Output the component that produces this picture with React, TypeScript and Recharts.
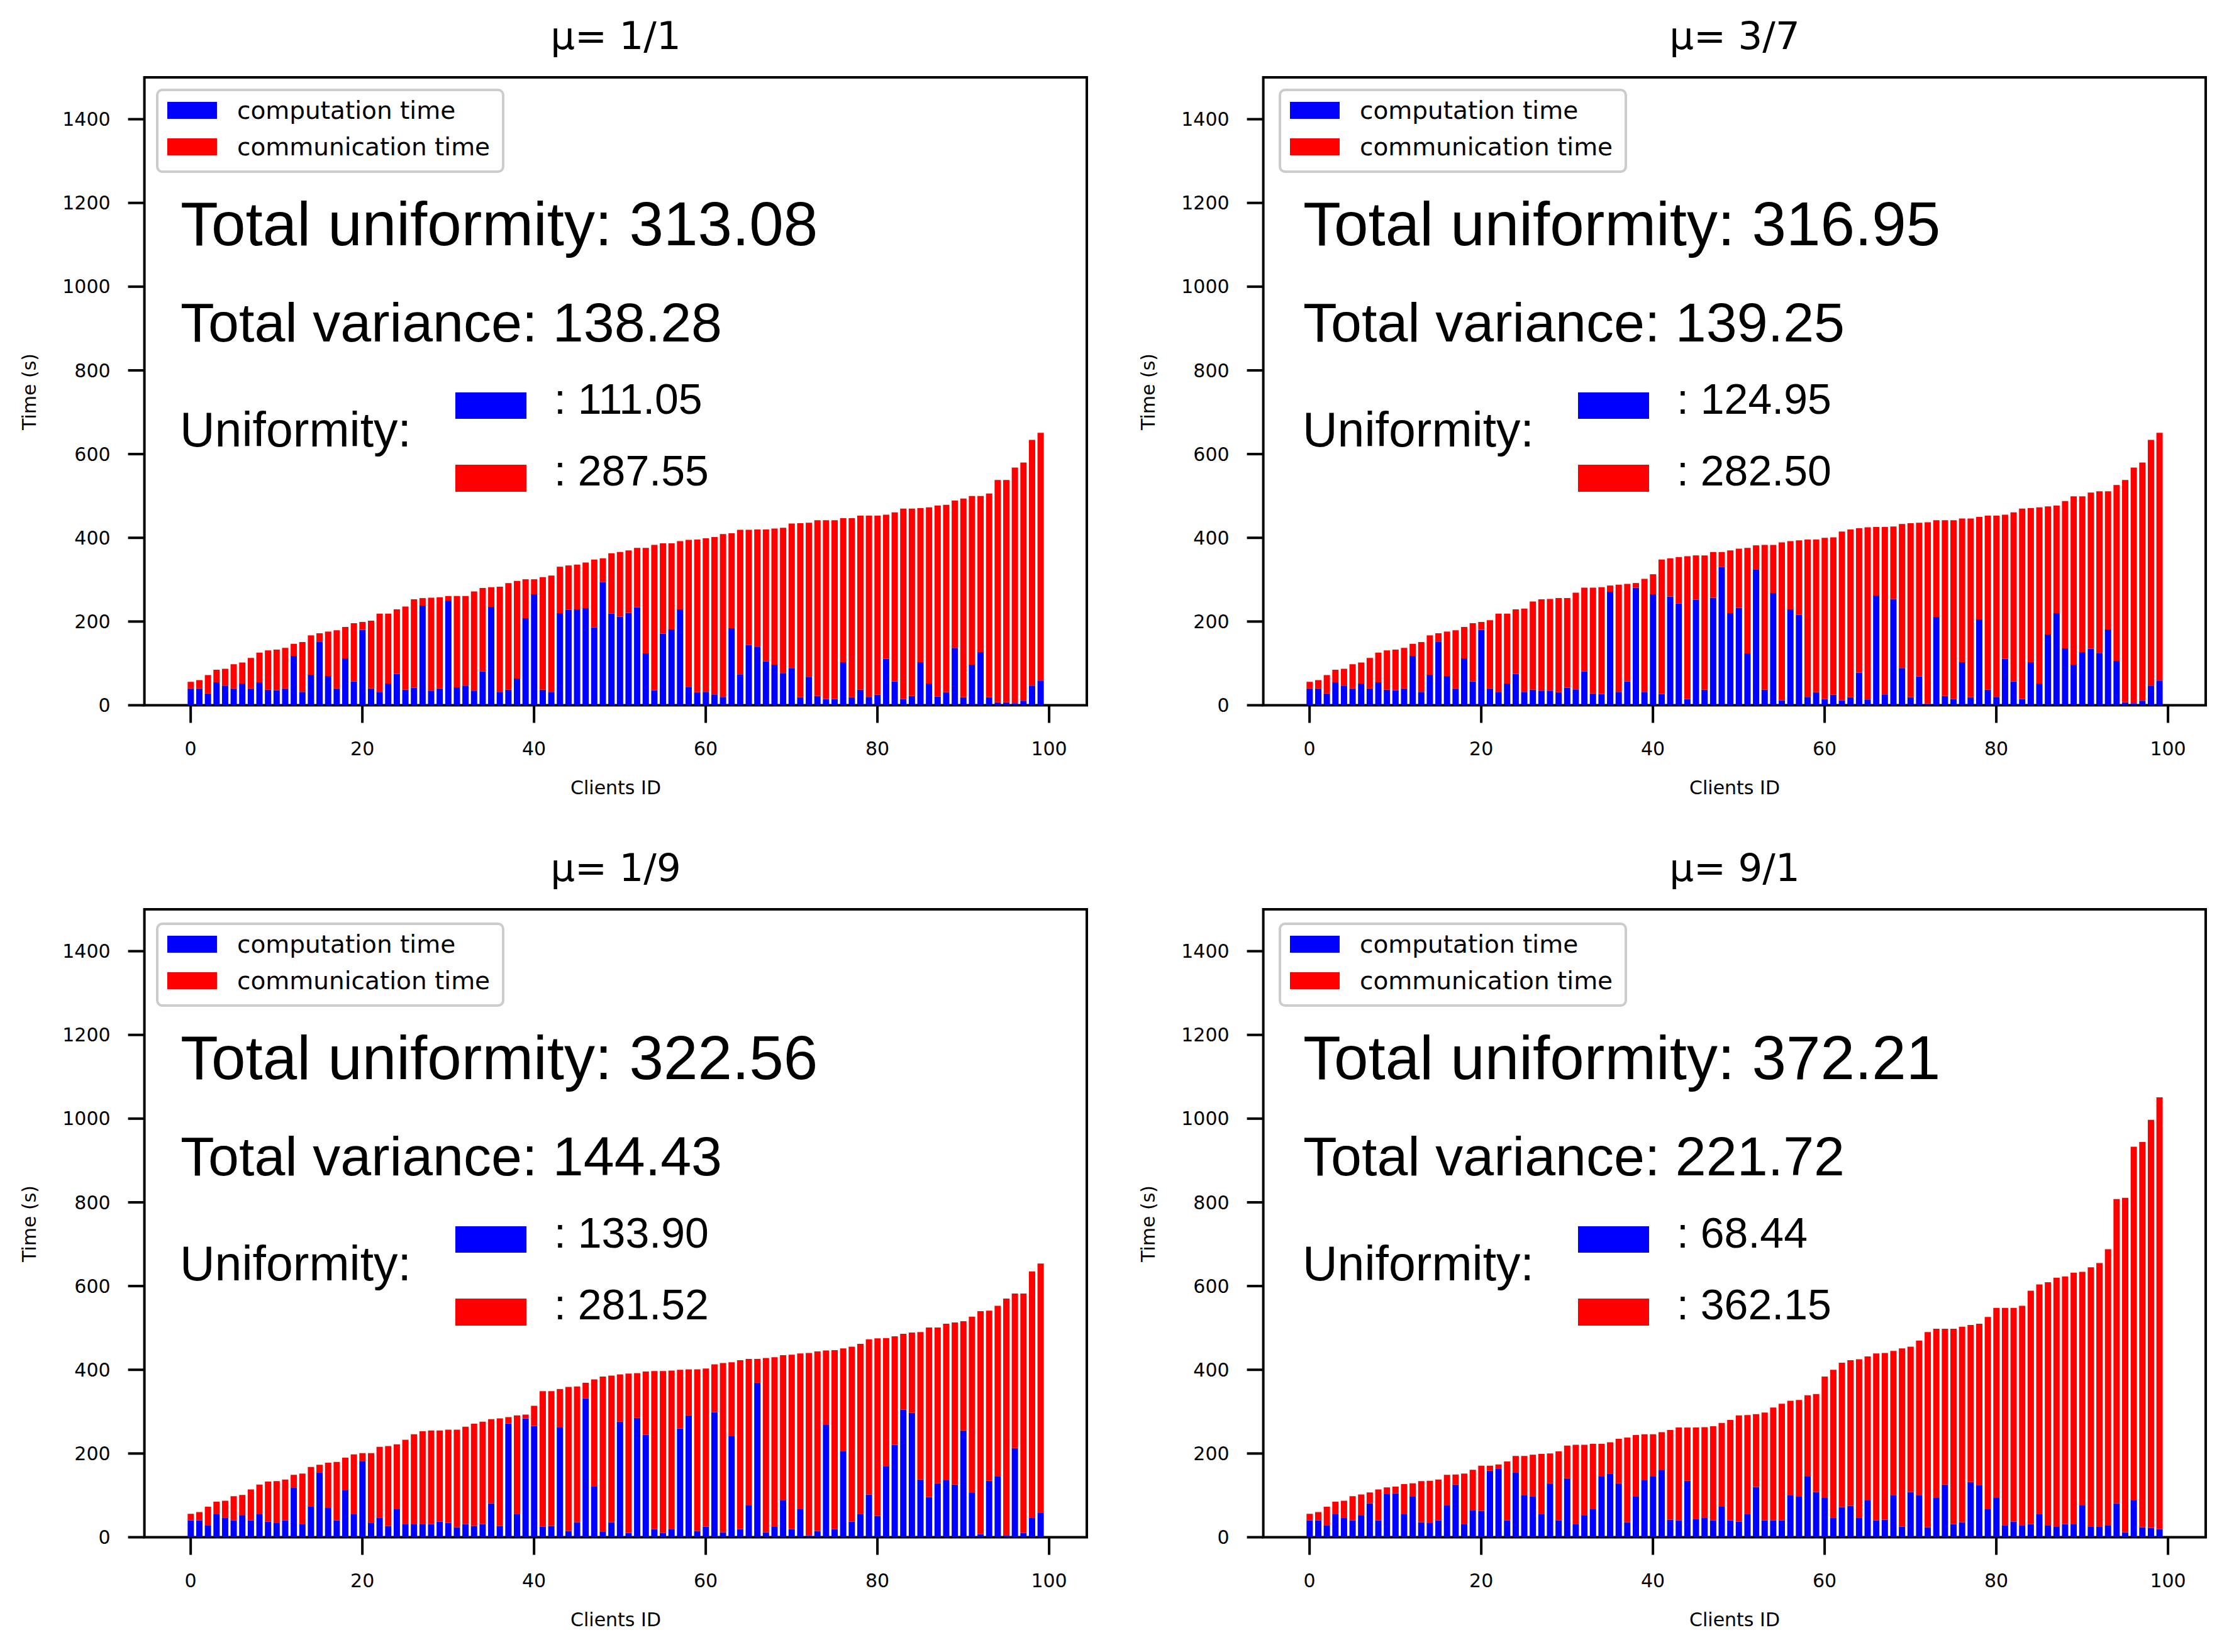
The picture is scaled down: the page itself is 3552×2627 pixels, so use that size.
import React from 'react';
import { ComposedChart, Bar, XAxis, YAxis, ReferenceArea, Customized } from 'recharts';

// ---------------- data ----------------
const panelTitles = ['μ= 1/1', 'μ= 3/7', 'μ= 1/9', 'μ= 9/1'];
const totalUniformity = ['313.08', '316.95', '322.56', '372.21'];
const totalVariance = ['138.28', '139.25', '144.43', '221.72'];
const compUniformity = ['111.05', '124.95', '133.90', '68.44'];
const commUniformity = ['287.55', '282.50', '281.52', '362.15'];

const xTicks = [0, 20, 40, 60, 80, 100];
const yTicks = [0, 200, 400, 600, 800, 1000, 1200, 1400];

// total time (top of each stacked bar) per client, panel mu=1/1
const total11 = [
  56, 60, 72, 85, 87, 98, 102, 113, 126, 131,
  133, 137, 147, 151, 167, 172, 176, 179, 187, 196,
  199, 202, 219, 219, 229, 236, 253, 256, 257, 258,
  261, 261, 261, 272, 280, 282, 283, 292, 297, 301,
  301, 306, 310, 331, 334, 336, 341, 348, 351, 363,
  366, 370, 376, 376, 383, 387, 387, 392, 395, 396,
  399, 402, 409, 411, 419, 419, 420, 420, 422, 424,
  434, 435, 436, 442, 442, 442, 447, 447, 453, 453,
  453, 455, 461, 470, 470, 471, 473, 477, 479, 489,
  494, 500, 500, 506, 538, 538, 568, 580, 634, 651,
];
const comp11 = [
  40, 40, 28, 55, 47, 40, 52, 40, 55, 37,
  36, 40, 118, 32, 73, 152, 70, 40, 112, 57,
  180, 40, 32, 52, 75, 37, 42, 238, 35, 40,
  250, 43, 47, 35, 81, 235, 32, 37, 64, 208,
  265, 37, 32, 220, 228, 229, 232, 186, 294, 219,
  212, 221, 234, 124, 36, 171, 181, 229, 44, 31,
  32, 26, 20, 184, 74, 144, 140, 105, 97, 77,
  89, 19, 68, 22, 15, 15, 103, 19, 37, 20,
  25, 111, 57, 15, 22, 103, 52, 21, 31, 137,
  19, 97, 127, 19, 7, 7, 5, 11, 47, 59,
];

// panel mu=3/7
const total37 = [
  56, 60, 72, 85, 87, 98, 102, 113, 126, 131,
  133, 137, 147, 151, 167, 172, 176, 179, 187, 196,
  199, 203, 219, 219, 229, 231, 248, 253, 254, 256,
  256, 269, 281, 281, 282, 286, 288, 290, 292, 302,
  313, 348, 351, 354, 356, 358, 358, 366, 366, 370,
  374, 376, 382, 383, 383, 389, 392, 394, 396, 396,
  400, 401, 415, 420, 423, 425, 426, 426, 427, 433,
  435, 436, 437, 442, 442, 442, 446, 446, 450, 453,
  453, 455, 461, 470, 471, 473, 475, 477, 488, 499,
  499, 508, 511, 511, 526, 538, 568, 580, 634, 651,
];
const comp37 = [
  40, 40, 28, 55, 47, 40, 52, 40, 55, 37,
  36, 40, 118, 32, 73, 152, 70, 40, 112, 57,
  180, 40, 32, 52, 75, 32, 37, 35, 35, 31,
  42, 38, 81, 28, 27, 271, 32, 57, 281, 32,
  265, 27, 260, 243, 15, 252, 37, 257, 330, 220,
  233, 124, 325, 37, 268, 12, 229, 216, 20, 31,
  15, 25, 12, 19, 78, 14, 262, 26, 254, 89,
  19, 69, 4, 211, 22, 15, 103, 19, 205, 37,
  20, 111, 57, 15, 103, 52, 169, 220, 136, 97,
  127, 135, 125, 181, 106, 7, 5, 11, 47, 59,
];

// panel mu=1/9
const total19 = [
  56, 60, 73, 85, 87, 98, 101, 114, 126, 133,
  134, 138, 149, 152, 168, 173, 178, 180, 190, 198,
  201, 201, 216, 218, 222, 233, 246, 253, 255, 255,
  257, 257, 264, 271, 276, 282, 284, 287, 291, 293,
  314, 349, 349, 354, 359, 360, 369, 377, 384, 386,
  389, 391, 392, 396, 397, 397, 398, 400, 401, 401,
  403, 413, 416, 418, 423, 426, 426, 428, 430, 435,
  436, 439, 440, 444, 446, 447, 451, 455, 462, 473,
  475, 476, 480, 486, 489, 490, 501, 501, 510, 513,
  516, 527, 540, 541, 553, 570, 582, 582, 635, 654,
];
const comp19 = [
  40, 40, 29, 55, 47, 40, 52, 40, 55, 37,
  35, 40, 119, 32, 74, 155, 70, 40, 112, 56,
  182, 35, 47, 27, 67, 32, 32, 32, 31, 37,
  34, 24, 31, 27, 31, 81, 27, 272, 56, 284,
  266, 25, 27, 262, 15, 36, 332, 122, 14, 36,
  276, 10, 285, 245, 19, 10, 20, 260, 291, 15,
  25, 299, 12, 241, 19, 77, 369, 12, 26, 89,
  19, 67, 4, 15, 268, 19, 206, 37, 56, 102,
  51, 170, 221, 305, 297, 138, 96, 129, 136, 126,
  255, 106, 7, 135, 146, 5, 213, 10, 47, 59,
];

// panel mu=9/1
const total91 = [
  56, 60, 73, 85, 87, 98, 102, 107, 114, 119,
  121, 127, 129, 134, 135, 138, 149, 150, 152, 161,
  171, 171, 174, 181, 194, 194, 197, 199, 200, 205,
  219, 221, 221, 223, 223, 227, 235, 238, 244, 246,
  246, 251, 256, 262, 262, 262, 263, 265, 273, 280,
  291, 292, 294, 298, 310, 319, 326, 328, 339, 342,
  384, 400, 417, 423, 425, 432, 439, 440, 445, 451,
  455, 470, 490, 498, 498, 498, 503, 507, 510, 526,
  548, 548, 548, 553, 589, 604, 609, 620, 623, 632,
  634, 645, 655, 688, 808, 811, 933, 944, 997, 1051,
];
const comp91 = [
  40, 40, 29, 55, 47, 40, 52, 81, 40, 103,
  105, 55, 97, 36, 35, 40, 77, 126, 32, 65,
  63, 159, 164, 40, 155, 101, 98, 56, 129, 40,
  141, 32, 53, 67, 145, 152, 129, 36, 97, 136,
  145, 160, 42, 40, 135, 44, 47, 40, 73, 40,
  37, 56, 120, 40, 40, 40, 101, 97, 145, 108,
  94, 47, 72, 75, 47, 88, 40, 42, 101, 25,
  108, 101, 24, 94, 126, 31, 36, 132, 125, 67,
  94, 29, 37, 29, 31, 56, 29, 26, 31, 32,
  76, 26, 26, 29, 81, 12, 88, 24, 22, 19,
];

const totalsByPanel = [total11, total37, total19, total91];
const compByPanel = [comp11, comp37, comp19, comp91];

// ---------------- layout ----------------
const CW = 1773;
const CH = 1300;
const X_DOMAIN: [number, number] = [-5.39, 104.39];
const Y_DOMAIN: [number, number] = [0, 1500];
const TICK_FONT = 'DejaVu Sans';
const BIG_FONT = 'Liberation Sans';

function Annotations({ idx, dx, dy }: { idx: number; dx: number; dy: number }) {
  return (
    <g>
      <text x={979} y={78} textAnchor="middle" fontFamily={TICK_FONT} fontSize={61} fill="#000">
        {panelTitles[idx]}
      </text>
      <text x={57} y={623} transform="rotate(-90 57 623)" textAnchor="middle" fontFamily={TICK_FONT} fontSize={30} fill="#000">
        Time (s)
      </text>
      <text x={979} y={1263} textAnchor="middle" fontFamily={TICK_FONT} fontSize={30} fill="#000">
        Clients ID
      </text>
      <g transform={`translate(${dx},${dy})`}>
        {/* legend */}
        <rect x={250} y={143} width={550} height={130} rx={8} ry={8} fill="#ffffff" fillOpacity={0.8} stroke="#cccccc" strokeWidth={4} />
        <rect x={266} y={162} width={79} height={27} fill="#0000ff" />
        <rect x={266} y={220} width={79} height={27} fill="#ff0000" />
        <text x={377} y={189} fontFamily={TICK_FONT} fontSize={39} fill="#000">computation time</text>
        <text x={377} y={247} fontFamily={TICK_FONT} fontSize={39} fill="#000">communication time</text>
        {/* big annotations */}
        <text x={287} y={390} fontFamily={BIG_FONT} fontSize={98} fill="#000">
          {`Total uniformity: ${totalUniformity[idx]}`}
        </text>
        <text x={287} y={543} fontFamily={BIG_FONT} fontSize={88} fill="#000">
          {`Total variance: ${totalVariance[idx]}`}
        </text>
        <text x={286} y={710} fontFamily={BIG_FONT} fontSize={77} fill="#000">Uniformity:</text>
        <rect x={724} y={624} width={113} height={42} fill="#0000ff" />
        <rect x={724} y={739} width={113} height={43} fill="#ff0000" />
        <text x={881} y={658} fontFamily={BIG_FONT} fontSize={68} fill="#000">{`: ${compUniformity[idx]}`}</text>
        <text x={881} y={772} fontFamily={BIG_FONT} fontSize={68} fill="#000">{`: ${commUniformity[idx]}`}</text>
      </g>
    </g>
  );
}

function Panel({ idx, left, top, dx, dy }: { idx: number; left: number; top: number; dx: number; dy: number }) {
  const totals = totalsByPanel[idx];
  const comps = compByPanel[idx];
  const data = totals.map((t, i) => ({ id: i, comp: comps[i], comm: t - comps[i] }));
  const tickStyle = { fontSize: 30, fill: '#000', fontFamily: TICK_FONT };
  return (
    <div style={{ position: 'absolute', left, top, width: CW, height: CH }}>
      <ComposedChart width={CW} height={CH} data={data} margin={{ top: 123, right: 45, left: 0, bottom: 0 }}>
        <XAxis
          dataKey="id"
          type="number"
          domain={X_DOMAIN}
          ticks={xTicks}
          allowDataOverflow
          interval={0}
          height={178.5}
          tickSize={28}
          tickMargin={30}
          tick={tickStyle}
          tickLine={{ stroke: '#000', strokeWidth: 4 }}
          axisLine={false}
        />
        <YAxis
          type="number"
          domain={Y_DOMAIN}
          ticks={yTicks}
          allowDataOverflow
          interval={0}
          width={229.6}
          tickSize={26}
          tickMargin={28}
          tick={tickStyle}
          tickLine={{ stroke: '#000', strokeWidth: 4 }}
          axisLine={false}
        />
        <Bar dataKey="comp" stackId="a" fill="#0000ff" barSize={10} isAnimationActive={false} />
        <Bar dataKey="comm" stackId="a" fill="#ff0000" barSize={10} isAnimationActive={false} />
        <ReferenceArea
          x1={X_DOMAIN[0]}
          x2={X_DOMAIN[1]}
          y1={Y_DOMAIN[0]}
          y2={Y_DOMAIN[1]}
          fill="none"
          fillOpacity={0}
          stroke="#000"
          strokeWidth={4}
          ifOverflow="visible"
        />
        <Customized component={() => <Annotations idx={idx} dx={dx} dy={dy} />} />
      </ComposedChart>
    </div>
  );
}

export default function App() {
  return (
    <div style={{ position: 'absolute', left: 0, top: 0, width: 3552, height: 2627, background: '#ffffff', overflow: 'hidden' }}>
      <Panel idx={0} left={0} top={0} dx={0} dy={0} />
      <Panel idx={1} left={1779} top={0} dx={6} dy={0} />
      <Panel idx={2} left={0} top={1323} dx={0} dy={3} />
      <Panel idx={3} left={1779} top={1323} dx={6} dy={3} />
    </div>
  );
}
